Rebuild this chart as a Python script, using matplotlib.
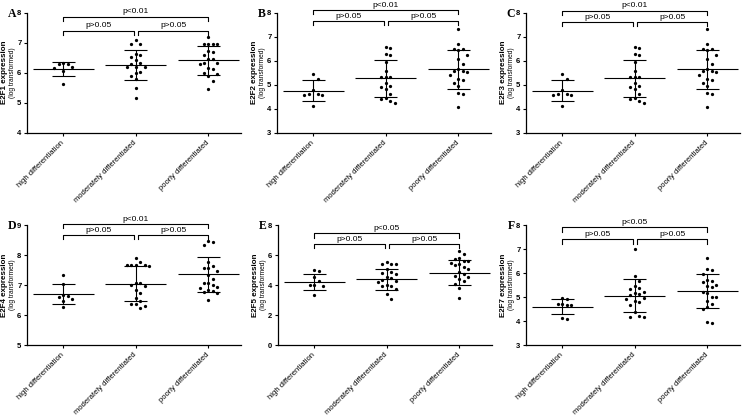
"""Six-panel E2F expression scatter plots by differentiation grade."""
import numpy as np
import matplotlib
matplotlib.use("Agg")
import matplotlib.pyplot as plt
import matplotlib.transforms as mtransforms

plt.rcParams["font.family"] = ["Liberation Sans", "DejaVu Sans"]

GROUPS = ["high differentiation", "moderately differentiated", "poorly differentiated"]

# ---------------------------------------------------------------------
# 1) Values (log transformed expression)
# ---------------------------------------------------------------------
E2F1_HIGH = [6.30, 6.28, 6.31, 6.18, 6.15, 6.05, 5.62]
E2F1_MOD = [7.08, 6.95, 6.95, 6.62, 6.60, 6.52, 6.42, 6.33, 6.30, 6.20, 6.18, 6.20,
            6.03, 6.00, 5.88, 5.78, 5.48, 5.17]
E2F1_POOR = [7.20, 6.96, 6.95, 6.97, 6.94, 6.72, 6.70, 6.60, 6.46, 6.44, 6.32, 6.30,
             6.31, 6.15, 6.12, 5.98, 5.97, 5.88, 5.72, 5.45]
E2F1_MEAN = [6.11, 6.24, 6.41]
E2F1_SD = [0.235, 0.50, 0.485]

E2F2_HIGH = [5.44, 5.24, 4.77, 4.60, 4.58, 4.60, 4.57, 4.11]
E2F2_MOD = [6.55, 6.53, 6.28, 6.22, 5.95, 5.58, 5.33, 5.32, 5.33, 5.05, 4.95, 4.92,
            4.80, 4.62, 4.45, 4.42, 4.30, 4.25]
E2F2_POOR = [7.30, 6.70, 6.47, 6.45, 6.48, 6.25, 6.05, 5.85, 5.65, 5.55, 5.52, 5.55,
             5.42, 5.22, 5.20, 5.05, 4.95, 4.64, 4.63, 4.07]
E2F2_MEAN = [4.75, 5.26, 5.64]
E2F2_SD = [0.43, 0.755, 0.815]

E2F3_HIGH = [5.44, 5.24, 4.77, 4.60, 4.58, 4.60, 4.57, 4.11]
E2F3_MOD = [6.55, 6.53, 6.28, 6.22, 5.95, 5.58, 5.33, 5.32, 5.33, 5.05, 4.95, 4.92,
            4.80, 4.62, 4.45, 4.42, 4.30, 4.25]
E2F3_POOR = [7.30, 6.70, 6.47, 6.45, 6.48, 6.25, 6.05, 5.85, 5.65, 5.55, 5.52, 5.55,
             5.42, 5.22, 5.20, 5.05, 4.95, 4.64, 4.63, 4.07]
E2F3_MEAN = [4.75, 5.26, 5.64]
E2F3_SD = [0.43, 0.755, 0.815]

E2F4_HIGH = [7.35, 7.03, 6.65, 6.62, 6.60, 6.55, 6.45, 6.25]
E2F4_MOD = [7.90, 7.78, 7.66, 7.65, 7.66, 7.64, 7.65, 7.06, 7.05, 7.00, 6.98, 6.83,
            6.72, 6.58, 6.47, 6.38, 6.36, 6.30, 6.24]
E2F4_POOR = [8.48, 8.42, 8.32, 7.76, 7.62, 7.57, 7.55, 7.45, 7.33, 7.20, 7.08, 7.05,
             7.00, 6.93, 6.90, 6.85, 6.80, 6.78, 6.72, 6.50]
E2F4_MEAN = [6.69, 7.045, 7.36]
E2F4_SD = [0.33, 0.575, 0.58]

E2F5_HIGH = [4.97, 4.93, 4.55, 4.25, 4.00, 3.98, 3.95, 3.35]
E2F5_MOD = [5.55, 5.42, 5.40, 5.38, 5.05, 4.88, 4.80, 4.72, 4.55, 4.48, 4.35, 4.28,
            4.18, 3.98, 3.96, 3.95, 3.75, 3.42, 3.10]
E2F5_POOR = [6.30, 6.05, 5.80, 5.75, 5.62, 5.58, 5.50, 5.38, 5.35, 5.22, 5.07, 4.90,
             4.72, 4.60, 4.55, 4.40, 4.25, 4.05, 3.80, 3.15]
E2F5_MEAN = [4.22, 4.40, 4.82]
E2F5_SD = [0.545, 0.70, 0.815]

E2F7_HIGH = [4.97, 4.92, 4.72, 4.70, 4.68, 4.66, 4.12, 4.08]
E2F7_MOD = [7.00, 5.88, 5.65, 5.45, 5.38, 5.35, 5.22, 5.15, 5.12, 5.08, 4.95, 4.92,
            4.85, 4.80, 4.68, 4.38, 4.20, 4.18, 4.15]
E2F7_POOR = [6.62, 6.18, 6.12, 5.95, 5.72, 5.68, 5.62, 5.48, 5.45, 5.40, 5.22, 5.15,
             5.02, 4.98, 4.85, 4.72, 4.58, 4.50, 3.95, 3.93]
E2F7_MEAN = [4.60, 5.06, 5.25]
E2F7_SD = [0.32, 0.675, 0.705]

P_LABELS = {
    "A": ["p<0.01", "p>0.05", "p>0.05"],
    "B": ["p<0.01", "p>0.05", "p>0.05"],
    "C": ["p<0.01", "p>0.05", "p>0.05"],
    "D": ["p<0.01", "p>0.05", "p>0.05"],
    "E": ["p<0.05", "p>0.05", "p>0.05"],
    "F": ["p<0.05", "p>0.05", "p>0.05"],
}

# ---------------------------------------------------------------------
# 2) Panel layout (pixels in a 745x415 canvas)
# ---------------------------------------------------------------------
W, H = 745, 415
AX_W, AX_H = 214, 120
panels = [
    # letter, gene, groups, mean, sd, ylim, ystep, left px, top px, bracket fractions
    ("A", "E2F1", (E2F1_HIGH, E2F1_MOD, E2F1_POOR), E2F1_MEAN, E2F1_SD, (4, 8), 1, 27, 12.7, (0.967, 0.85)),
    ("B", "E2F2", (E2F2_HIGH, E2F2_MOD, E2F2_POOR), E2F2_MEAN, E2F2_SD, (3, 8), 1, 277, 12.7, (1.022, 0.93)),
    ("C", "E2F3", (E2F3_HIGH, E2F3_MOD, E2F3_POOR), E2F3_MEAN, E2F3_SD, (3, 8), 1, 526, 12.7, (1.017, 0.92)),
    ("D", "E2F4", (E2F4_HIGH, E2F4_MOD, E2F4_POOR), E2F4_MEAN, E2F4_SD, (5, 9), 1, 27, 225, (1.008, 0.917)),
    ("E", "E2F5", (E2F5_HIGH, E2F5_MOD, E2F5_POOR), E2F5_MEAN, E2F5_SD, (0, 8), 2, 278, 225, (0.93, 0.84)),
    ("F", "E2F7", (E2F7_HIGH, E2F7_MOD, E2F7_POOR), E2F7_MEAN, E2F7_SD, (3, 8), 1, 526, 225, (0.98, 0.88)),
]
XLIM = (-0.5, 2.45)
DOT_DX = 4.4   # horizontal spacing between neighbouring dots, px
DOT_DY = 6.0   # vertical distance below which dots are pushed sideways, px


def swarm_offsets(vals, px_x, px_y):
    """Greedy column-scatter offsets (data units), GraphPad style."""
    vals = np.asarray(vals, dtype=float)
    offs = np.zeros(len(vals))
    placed = []
    cands = [0.0]
    for k in range(1, 8):
        cands += [k * DOT_DX, -k * DOT_DX]
    for i in np.argsort(vals)[::-1]:
        y = vals[i] * px_y
        for c in cands:
            if all(abs(c - px) >= 0.95 * DOT_DX or abs(y - py) >= DOT_DY for px, py in placed):
                break
        placed.append((c, y))
        offs[i] = c / px_x
    return offs


fig = plt.figure(figsize=(W / 100, H / 100), dpi=100)

for letter, gene, groups, means, sds, ylim, ystep, left, top, (fb, fs) in panels:
    ax = fig.add_axes([left / W, 1 - (top + AX_H) / H, AX_W / W, AX_H / H])
    ax.set_xlim(*XLIM)
    ax.set_ylim(*ylim)
    px_x = AX_W / (XLIM[1] - XLIM[0])
    px_y = AX_H / (ylim[1] - ylim[0])

    for i, vals in enumerate(groups):
        offs = swarm_offsets(vals, px_x, px_y)
        ax.scatter(i + offs, vals, s=5.5, color="black", linewidths=0, zorder=3)
        m, s = means[i], sds[i]
        ax.hlines(m, i - 0.42, i + 0.42, color="black", lw=0.8, zorder=2)
        ax.hlines([m - s, m + s], i - 0.16, i + 0.16, color="black", lw=0.8, zorder=2)
        ax.vlines(i, m - s, m + s, color="black", lw=0.8, zorder=2)

    # significance brackets
    trans = mtransforms.blended_transform_factory(ax.transData, ax.transAxes)
    leg = 4.2 / AX_H
    labels = P_LABELS[letter]
    spans = [(0, 2, fb, labels[0]), (0, 0.97, fs, labels[1]), (1.03, 2, fs, labels[2])]
    for x0, x1, yb, lab in spans:
        ax.plot([x0, x0, x1, x1], [yb - leg, yb, yb, yb - leg], color="black", lw=0.8,
                transform=trans, clip_on=False)
        ax.annotate(lab, xy=((x0 + x1) / 2, yb), xycoords=trans, xytext=(0, 1.0),
                    textcoords="offset points", ha="center", va="bottom", fontsize=6)

    ax.spines[["top", "right"]].set_visible(False)
    for sp in ("left", "bottom"):
        ax.spines[sp].set_linewidth(0.9)
    ax.set_yticks(np.arange(ylim[0], ylim[1] + 0.01, ystep))
    ax.set_xticks([0, 1, 2])
    ax.set_xticklabels(GROUPS, rotation=45, ha="right", va="center",
                       rotation_mode="anchor", fontsize=5.5)
    ax.tick_params(axis="both", length=2.5, width=0.8, pad=1.5)
    ax.tick_params(axis="x", pad=4)
    for lbl in ax.get_yticklabels():
        lbl.set_fontsize(5.5)
        lbl.set_fontweight("bold")

    ax.text(-22.5 / AX_W, 0.5, f"{gene} expression", rotation=90, ha="center", va="center",
            fontsize=5.8, fontweight="bold", transform=ax.transAxes)
    ax.text(-14.5 / AX_W, 0.5, "(log transformed)", rotation=90, ha="center", va="center",
            fontsize=4.8, transform=ax.transAxes)
    fig.text((left - 15) / W, 1 - (top + 1) / H, letter, ha="center", va="center",
             fontsize=8.5, fontweight="bold", family="Liberation Serif")

fig.savefig("out.png", dpi=100)
plt.close(fig)
print("saved out.png")
